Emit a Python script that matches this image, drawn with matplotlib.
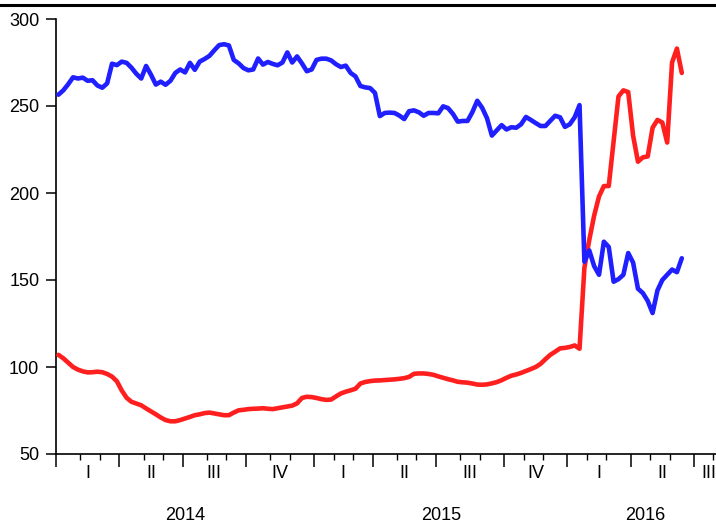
import numpy as np
import pandas as pd
import matplotlib
matplotlib.use("Agg")
import matplotlib.pyplot as plt
from matplotlib.lines import Line2D

plt.rcParams['font.family'] = ['Liberation Sans', 'DejaVu Sans']

# Weekly (Wednesday) observations starting 2014-01-01
start_date = "2014-01-01"

blue_series = [
    256.5, 259, 262.5, 266.5, 265.8, 266.3, 264.5, 264.8, 261.8, 260.5,
    263, 274.3, 273.5, 275.5, 274.8, 272, 268.5, 265.8, 273, 268,
    262.3, 264, 262.2, 264.5, 269, 271, 269.3, 274.8, 270.8, 275.5,
    277, 278.8, 282, 285, 285.5, 284.8, 276.5, 274.5, 271.8, 270.5,
    271, 277.3, 273.8, 275.3, 274.2, 273.4, 275, 280.8, 275, 278.5,
    274.5, 270, 271, 276.5, 277.2, 277.2, 276.2, 274, 272.4, 273.2,
    269, 267, 261.5, 260.7, 260.3, 257.5, 244.2, 246, 246.2, 246,
    244.5, 242.5, 247, 247.5, 246.4, 244.4, 246, 246, 245.8, 249.8,
    248.8, 245.5, 241, 241.4, 241.4, 246.5, 253, 249, 243, 233,
    236, 239, 236.5, 237.8, 237.5, 239.5, 243.7, 242, 240.2, 238.5,
    238.5, 241.5, 244.4, 243.5, 238, 239.5, 243.5, 250.5, 160.5, 167,
    158, 153, 172, 169, 149, 150.5, 153, 165.5, 160, 145,
    142.5, 138, 131, 144, 150, 153, 156, 154.5, 162.5,
]

red_series = [
    107, 105, 102.5, 100, 98.5, 97.5, 96.9, 97, 97.3, 97,
    96, 94.5, 91.8, 86.5, 82.3, 80, 79, 78, 76.2, 74.5,
    72.8, 71, 69.5, 68.8, 68.8, 69.5, 70.4, 71.3, 72.3, 72.8,
    73.5, 73.8, 73.3, 72.8, 72.3, 72.3, 73.8, 75.1, 75.4, 75.8,
    76, 76.1, 76.3, 76, 75.8, 76.3, 76.8, 77.3, 77.8, 79.1,
    82.2, 82.9, 82.7, 82.2, 81.5, 81.1, 81.3, 83.1, 84.8, 85.8,
    86.6, 87.5, 90.5, 91.4, 91.9, 92.2, 92.3, 92.5, 92.7, 92.9,
    93.2, 93.6, 94.3, 96.1, 96.3, 96.3, 96, 95.5, 94.6, 93.8,
    93, 92.3, 91.5, 91.2, 91, 90.5, 89.9, 89.8, 90, 90.6,
    91.3, 92.4, 93.8, 95, 95.7, 96.6, 97.7, 98.8, 100, 101.8,
    104.5, 107, 108.8, 110.7, 111, 111.5, 112.4, 110.5, 157, 173,
    187, 198, 204, 204, 230, 255.5, 259, 258, 233, 218,
    220.5, 221, 237.5, 242, 240.5, 229, 275, 283, 269,
]

y_ticks = [50, 100, 150, 200, 250, 300]
quarter_names = ["I", "II", "III", "IV"]

n = len(blue_series)
axis_weeks = 137  # visible span of the time axis in weeks
all_dates = pd.date_range(start_date, periods=axis_weeks + 10, freq="W-WED")

W, H = 716, 527
fig = plt.figure(figsize=(W / 100, H / 100), dpi=100)
ax_left = 56 / W
ax_bottom = 1 - 454 / H
ax_top = 1 - 19 / H
px_per_week = 4.87
ax_width = axis_weeks * px_per_week / W
ax = fig.add_axes([ax_left, ax_bottom, ax_width, ax_top - ax_bottom])

x = np.arange(n) + 0.5
ax.plot(x, red_series, color=(1.0, 0.12, 0.12), lw=3.3, solid_joinstyle='round',
        solid_capstyle='round', zorder=3)
ax.plot(x, blue_series, color=(0.12, 0.12, 1.0), lw=3.3, solid_joinstyle='round',
        solid_capstyle='round', zorder=4)

ax.set_xlim(0, axis_weeks)
ax.set_ylim(50, 300)

for s in ['top', 'right']:
    ax.spines[s].set_visible(False)
for s in ['left', 'bottom']:
    ax.spines[s].set_linewidth(1.2)

ax.set_yticks(y_ticks)
ax.set_yticklabels([str(v) for v in y_ticks])
ax.tick_params(axis='y', direction='out', length=7, width=1.1, labelsize=13, pad=5)

# month boundaries (minor) and quarter boundaries (major)
months = all_dates.to_period('M')
month_starts = [i for i in range(1, len(all_dates)) if months[i] != months[i - 1]]
month_starts = [0] + month_starts
month_starts = [i for i in month_starts if i <= axis_weeks]
quarter_starts = [i for i in month_starts if all_dates[i].month in (1, 4, 7, 10)]
ax.set_xticks(quarter_starts)
ax.set_xticklabels([])
ax.set_xticks([i for i in month_starts if i not in quarter_starts], minor=True)
ax.tick_params(axis='x', which='major', direction='out', length=9, width=1.1)
ax.tick_params(axis='x', which='minor', direction='out', length=4, width=1.0)

# quarter labels
trans = ax.get_xaxis_transform()
qb = quarter_starts + [axis_weeks]
for k in range(len(quarter_starts)):
    a, b = qb[k], min(qb[k + 1], axis_weeks)
    if a >= axis_weeks:
        continue
    q = (all_dates[a].month - 1) // 3
    ax.text((a + b) / 2, -20 / (454 - 19), quarter_names[q], transform=trans,
            ha='center', va='center', fontsize=13)

# year labels
year_starts = [i for i in quarter_starts if all_dates[i].month == 1] + [axis_weeks]
for k in range(len(year_starts) - 1):
    a, b = year_starts[k], year_starts[k + 1]
    ax.text((a + b) / 2, -61 / (454 - 19), str(all_dates[a].year), transform=trans,
            ha='center', va='center', fontsize=13)

# top frame line
fig.add_artist(Line2D([0, 1], [1 - 5 / H, 1 - 5 / H], color='black', lw=2.2,
                      transform=fig.transFigure))

fig.savefig("out.png", dpi=100)
